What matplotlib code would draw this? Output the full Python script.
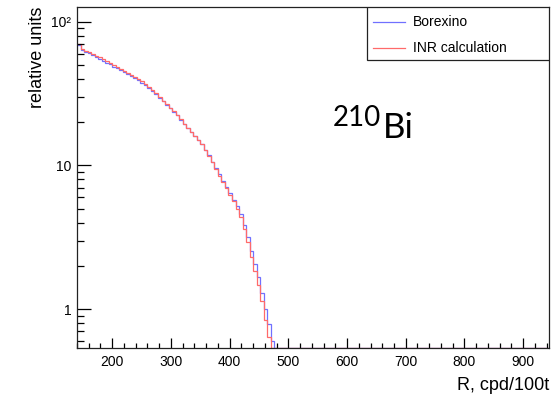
import numpy as np
import matplotlib
matplotlib.use("Agg")
import matplotlib.pyplot as plt
from matplotlib.patches import Rectangle
from matplotlib.ticker import FixedLocator, FixedFormatter, NullFormatter

plt.rcParams["font.family"] = ["Liberation Sans", "DejaVu Sans"]

# Histogram binning (cpd/100t)
bin_start = 140
bin_width = 6
x_max = 944

# Bin contents for the non-empty bins, in relative units
borexino = [
    69.5, 64.0, 62.0, 60.3, 58.6, 56.9, 55.2, 53.6, 52.0, 50.5,
    48.9, 47.5, 46.0, 44.6, 43.2, 41.8, 40.4, 39.1, 37.8, 36.3,
    34.7, 33.0, 31.4, 29.7, 28.1, 26.5, 25.0, 23.7, 22.3, 20.7,
    19.4, 18.1, 17.0, 16.0, 15.0, 14.0, 12.9, 11.8, 10.6, 9.55,
    8.65, 7.80, 7.08, 6.40, 5.78, 5.20, 4.58, 3.85, 3.18, 2.55,
    2.05, 1.66, 1.30, 1.00, 0.78, 0.60,
]
inr_calc = [
    70.0, 64.9, 63.1, 61.5, 59.8, 58.2, 56.5, 55.0, 53.3, 51.8,
    50.1, 48.6, 47.1, 45.6, 44.2, 42.8, 41.3, 39.9, 38.5, 36.9,
    35.2, 33.5, 31.8, 30.0, 28.3, 26.7, 25.2, 23.9, 22.5, 21.0,
    19.5, 18.2, 17.1, 16.0, 15.1, 14.1, 12.9, 11.7, 10.5, 9.44,
    8.51, 7.69, 6.95, 6.27, 5.62, 5.01, 4.34, 3.59, 2.92, 2.29,
    1.84, 1.48, 1.14, 0.84, 0.64, 0.45,
]
series_labels = ["Borexino", "INR calculation"]

x_ticks = [200, 300, 400, 500, 600, 700, 800, 900]
y_ticks = [1, 10, 100]
y_tick_labels = ["1", "10", "10\u00b2"]

y_lo, y_hi = 0.535, 127.0
blue = "#7070ff"
red = "#ff6a6a"

n_bins = (x_max - bin_start) // bin_width
edges = bin_start + bin_width * np.arange(n_bins + 1)


def full_hist(vals):
    h = np.zeros(n_bins)
    h[:len(vals)] = vals
    # empty / tiny bins are drawn on the frame floor, as on a log-scale histogram
    return np.maximum(h, y_lo)


W, H = 553, 394
fig = plt.figure(figsize=(W / 100, H / 100), dpi=100)
ax = fig.add_axes([77 / W, 1 - 348 / H, (549 - 77) / W, (348 - 7) / H])

ax.stairs(full_hist(borexino), edges, color=blue, lw=0.9, baseline=None)
ax.stairs(full_hist(inr_calc), edges, color=red, lw=0.9, baseline=None)

ax.set_yscale("log")
ax.set_xlim(bin_start, x_max)
ax.set_ylim(y_lo, y_hi)

ax.xaxis.set_major_locator(FixedLocator(x_ticks))
ax.xaxis.set_minor_locator(FixedLocator(np.arange(140, x_max, 20)))
ax.yaxis.set_major_locator(FixedLocator(y_ticks))
ax.yaxis.set_major_formatter(FixedFormatter(y_tick_labels))
minor_y = [m * 10.0 ** d for d in (-1, 0, 1) for m in range(2, 10)]
ax.yaxis.set_minor_locator(FixedLocator(minor_y))
ax.yaxis.set_minor_formatter(NullFormatter())

ax.tick_params(axis="x", which="major", direction="in", length=7.5, width=0.9,
               labelsize=10, pad=5)
ax.tick_params(axis="x", which="minor", direction="in", length=3.7, width=0.9)
ax.tick_params(axis="y", which="major", direction="in", length=10, width=0.9,
               labelsize=10, pad=4)
ax.tick_params(axis="y", which="minor", direction="in", length=5, width=0.9)
for s in ax.spines.values():
    s.set_linewidth(0.9)
    s.set_color("#222222")

ax.set_xlabel("R, cpd/100t", fontsize=13, loc="right", labelpad=6)
ax.set_ylabel("relative units", fontsize=13, loc="top", labelpad=4)

# Legend box in the upper-right corner
def ax_frac(px, py):
    x0, y0 = 77, 348
    return (px - x0) / (549 - x0), (y0 - py) / (348 - 7)

lx0, ly0 = ax_frac(367, 60)
lx1, ly1 = ax_frac(549, 7)
ax.add_patch(Rectangle((lx0, ly0), lx1 - lx0, ly1 - ly0, transform=ax.transAxes,
                       facecolor="white", edgecolor="#222222", lw=0.9, zorder=5))
for label, col, py in zip(series_labels, [blue, red], [22, 48]):
    a0, b0 = ax_frac(373, py)
    a1, _ = ax_frac(405, py)
    ax.plot([a0, a1], [b0, b0], transform=ax.transAxes, color=col, lw=0.9,
            zorder=6, clip_on=False)
    t0, _ = ax_frac(413, py)
    ax.text(t0, b0, label, transform=ax.transAxes, fontsize=10, va="center",
            ha="left", zorder=6)

# Isotope label
fig.text(333 / W, 1 - 125.7 / H, "210", fontsize=20, family="Lato",
         va="baseline", ha="left")
fig.text(383 / W, 1 - 137.7 / H, "Bi", fontsize=25, family="Lato",
         va="baseline", ha="left")

fig.savefig("out.png", dpi=100)
